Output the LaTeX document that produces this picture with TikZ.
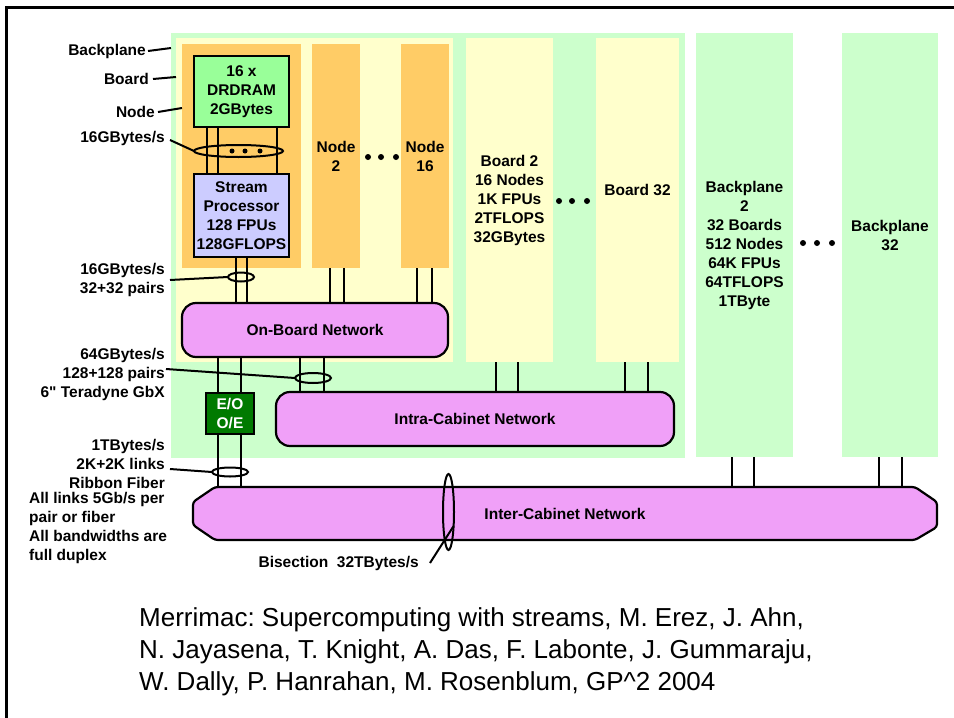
\documentclass[tikz,border=0pt]{standalone}
\usepackage{fontspec}
\setmainfont{Liberation Sans}[Ligatures=TeXOff]
\frenchspacing
\usetikzlibrary{fit,shapes.geometric}
\definecolor{bpgreen}{HTML}{CCFFCC}
\definecolor{bdyellow}{HTML}{FFFFCC}
\definecolor{ndorange}{HTML}{FFCC66}
\definecolor{dramgreen}{HTML}{99FF99}
\definecolor{splav}{HTML}{CCCCFF}
\definecolor{netpink}{HTML}{F0A0F8}
\definecolor{eogreen}{HTML}{007A00}
\begin{document}
\begin{tikzpicture}[x=1pt,y=-1pt,
  font=\fontsize{15.5}{19}\selectfont\bfseries,
  region/.style={inner sep=0pt, outer sep=0pt, draw=none},
  txt/.style={inner sep=0pt, outer sep=0pt, align=center},
  box/.style={draw, line width=2.2pt, inner sep=0pt, outer sep=0pt},
  conn/.style={line width=2.2pt},
  lead/.style={line width=2pt},
  lab/.style={inner sep=0pt, align=right, anchor=east},
  net/.style={draw, fill=netpink, line width=2.2pt, rounded corners=14pt, inner sep=0pt, outer sep=0pt},
  ell/.style={ellipse, draw, line width=2pt, inner sep=0pt, outer sep=0pt},
  dot/.style={circle, fill, inner sep=0pt, minimum size=6pt}
]
\useasboundingbox (0,0) rectangle (954,718);
% frame
\draw[line width=3pt] (954,7) -- (6,7) -- (6,718);

% backplanes
\node[region, fill=bpgreen, fit={(171,33)(685,458)}] (bp1) {};
\node[region, fill=bpgreen, fit={(696,33)(793,457)}] (bp2) {};
\node[txt] at (bp2.center) (bp2t) {Backplane\\2\\32 Boards\\512 Nodes\\64K FPUs\\64TFLOPS\\1TByte};
\node[region, fill=bpgreen, fit={(842,33)(938,457)}] (bp32) {};
\node[txt] at ([yshift=10]bp32.center) (bp32t) {Backplane\\32};

% boards
\node[region, fill=bdyellow, fit={(176,38)(453,362)}] (bd1) {};
\node[region, fill=bdyellow, fit={(466,38)(553,362)}] (bd2) {};
\node[txt] at (bd2.center) (bd2t) {Board 2\\16 Nodes\\1K FPUs\\2TFLOPS\\32GBytes};
\node[region, fill=bdyellow, fit={(596,38)(679,362)}] (bd32) {};
\node[txt] at ([yshift=10]bd32.center) (bd32t) {Board 32};

% nodes
\node[region, fill=ndorange, fit={(182,44)(301,268)}] (nd1) {};
\node[region, fill=ndorange, fit={(312,44)(360,268)}] (nd2) {};
\node[txt] at (nd2.center) (nd2t) {Node\\2};
\node[region, fill=ndorange, fit={(401,44)(449,268)}] (nd16) {};
\node[txt] at (nd16.center) (nd16t) {Node\\16};

% dots
\foreach \x in {368,381,396} \node[dot] at (\x,157) {};
\foreach \x in {559,572,587} \node[dot] at (\x,201) {};
\foreach \x in {803,817,832} \node[dot] at (\x,243) {};

% memory and processor
\node[box, fill=dramgreen, fit={(194,56)(289,127)}] (dram) {};
\node[txt] at (dram.center) (dramt) {16 x\\DRDRAM\\2GBytes};
\node[box, fill=splav, fit={(194,174)(289,257)}] (sp) {};
\node[txt] at (sp.center) (spt) {Stream\\Processor\\128 FPUs\\128GFLOPS};

% networks
\node[net, fit={(182,303)(448,357)}] (obn) {};
\node[txt] at (obn.center) (obnt) {On-Board Network};
\node[net, fit={(276,392)(674,446)}] (intra) {};
\node[txt] at (intra.center) (intrat) {Intra-Cabinet Network};
\node[region, fit={(193,487)(937,540)}] (inter) {};
\draw[conn, fill=netpink, rounded corners=3pt]
  ([xshift=22]inter.north west) -- ([xshift=-22]inter.north east)
  -- ([yshift=-15]inter.north east) -- ([yshift=13]inter.south east)
  -- ([xshift=-22]inter.south east) -- ([xshift=22]inter.south west)
  -- ([yshift=15]inter.south west) -- ([yshift=-15]inter.north west) -- cycle;
\node[txt] at (inter.center) (intert) {Inter-Cabinet Network};

\node[box, fill=eogreen, fit={(206,393)(254,434)}] (eo) {};
\node[txt, text=white] at (eo.center) (eot) {E/O\\O/E};

% connectors
\foreach \x in {207,218,277} \draw[conn] (dram.south -| \x,0) -- (sp.north -| \x,0);
\foreach \x in {236,247} \draw[conn] (sp.south -| \x,0) -- (obn.north -| \x,0);
\foreach \x in {330,344} \draw[conn] (nd2.south -| \x,0) -- (obn.north -| \x,0);
\foreach \x in {417,432} \draw[conn] (nd16.south -| \x,0) -- (obn.north -| \x,0);
\foreach \x in {218,241} \draw[conn] (obn.south -| \x,0) -- (eo.north -| \x,0);
\foreach \x in {218,241} \draw[conn] (eo.south -| \x,0) -- (inter.north -| \x,0);
\foreach \x in {300,324} \draw[conn] (obn.south -| \x,0) -- (intra.north -| \x,0);
\foreach \x in {496,518} \draw[conn] (bd2.south -| \x,0) -- (intra.north -| \x,0);
\foreach \x in {625,648} \draw[conn] (bd32.south -| \x,0) -- (intra.north -| \x,0);
\foreach \x in {732,754} \draw[conn] (bp2.south -| \x,0) -- (inter.north -| \x,0);
\foreach \x in {879,902} \draw[conn] (bp32.south -| \x,0) -- (inter.north -| \x,0);

% bundle ellipses
\node[ell, minimum width=89pt, minimum height=12pt] (e1) at (238.5,151) {};
\foreach \x in {232,245,260} \node[dot, minimum size=5pt] at (\x,151) {};
\node[ell, minimum width=26pt, minimum height=9pt] (e2) at (241,277) {};
\node[ell, minimum width=36pt, minimum height=10pt] (e3) at (313,378) {};
\node[ell, minimum width=36pt, minimum height=9pt] (e4) at (230,472) {};
\node[ell, minimum width=11pt, minimum height=76pt] (e5) at (448.5,512) {};

% labels
\node[lab] (lbp) at (146,51) {Backplane};
\node[lab] (lbd) at (149,79) {Board};
\node[lab] (lnd) at (155,112) {Node};
\node[lab] (l16) at (165,138) {16GBytes/s};
\node[lab] (l1632) at (165,280) {16GBytes/s\\32+32 pairs};
\node[lab] (l64) at (165,374) {64GBytes/s\\128+128 pairs\\6" Teradyne GbX};
\node[lab] (l1t) at (165,464) {1TBytes/s\\2K+2K links\\Ribbon Fiber};
\node[inner sep=0pt, align=left, anchor=west] (lall) at (29,528) {All links 5Gb/s per\\pair or fiber\\All bandwidths are\\full duplex};
\node[lab] (lbis) at (419,563) {Bisection\ \ 32TBytes/s};

\draw[lead] ([xshift=2]lbp.east) -- (bp1.west |- 0,48);
\draw[lead] ([xshift=4]lbd.east) -- (bd1.west |- 0,77);
\draw[lead] ([xshift=3]lnd.east) -- (nd1.west |- 0,108);
\draw[lead] (170,140) -- (e1.west);
\draw[lead] (170,280) -- (e2.west);
\draw[lead] (166,369) -- (e3.west);
\draw[lead] (170,469) -- (e4.west);
\draw[lead] ([xshift=11]lbis.east) -- (e5.-70);

% citation
\node[inner sep=0pt, anchor=west, align=left, font=\fontsize{26}{32}\selectfont] (cite) at (139,652)
 {Merrimac: Supercomputing with streams, M. Erez, J. Ahn,\\
  N. Jayasena, T. Knight, A. Das, F. Labonte, J. Gummaraju,\\
  W. Dally, P. Hanrahan, M. Rosenblum, GP\textasciicircum 2 2004};
\end{tikzpicture}
\end{document}
